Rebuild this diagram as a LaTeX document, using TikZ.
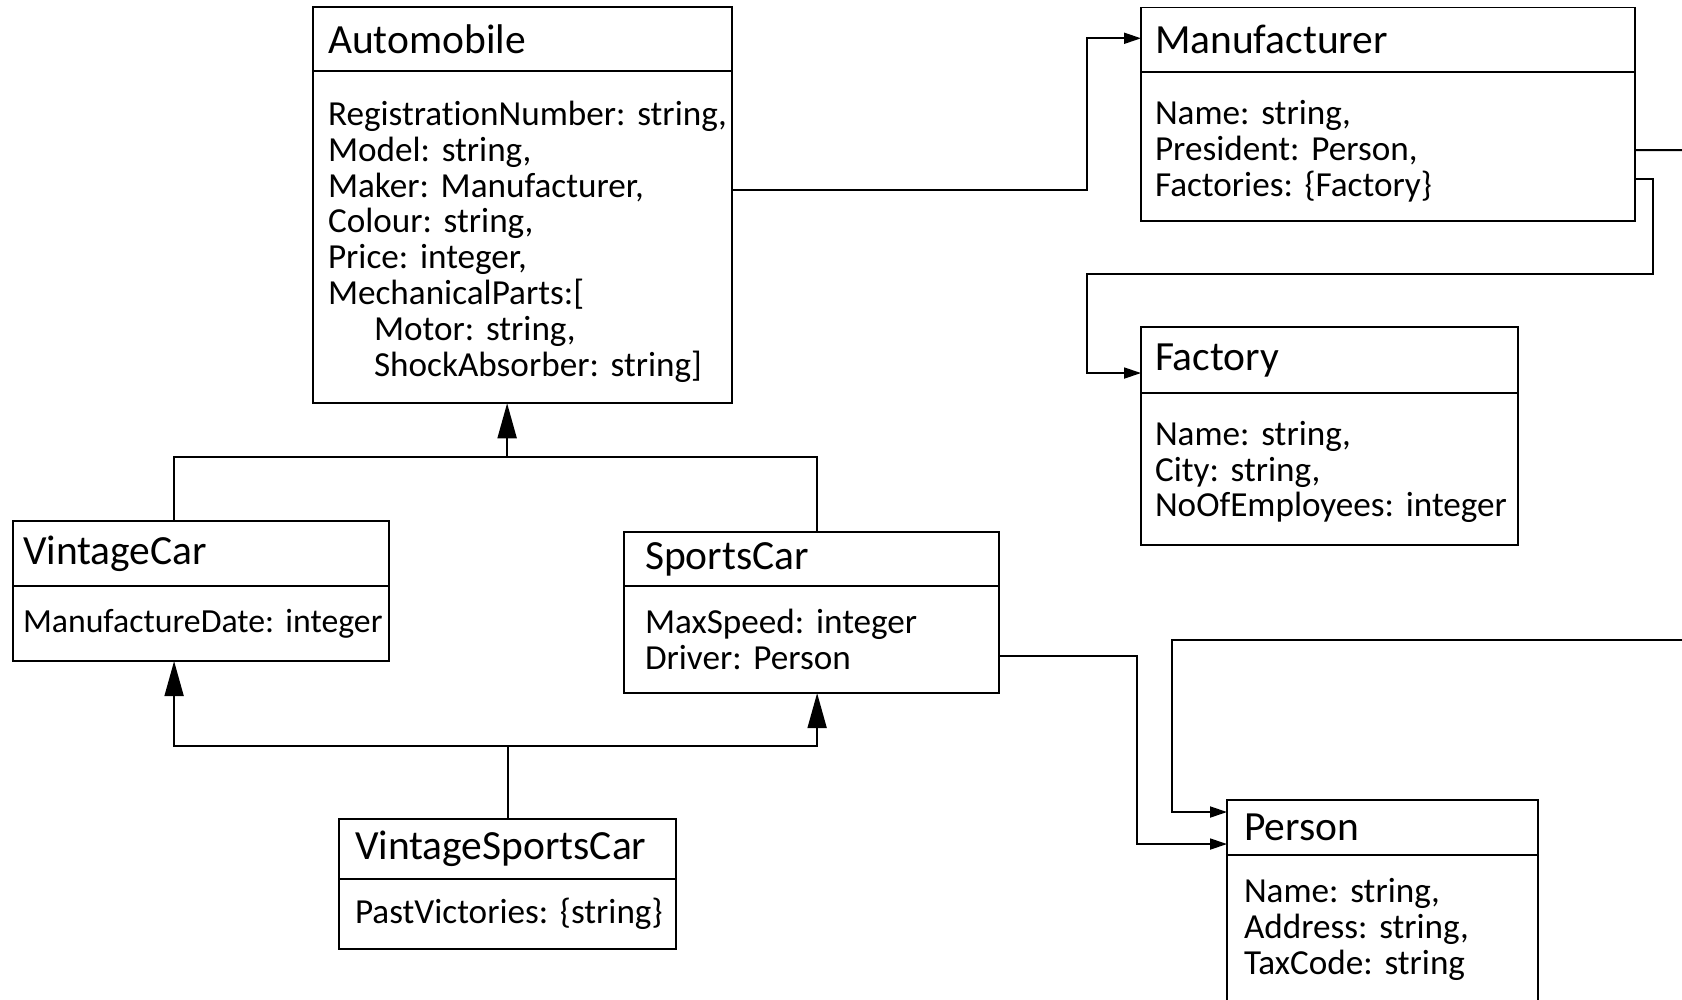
\documentclass[tikz,border=0pt]{standalone}
\usepackage{fontspec}
\setmainfont{Carlito}[Ligatures=NoCommon]
\usetikzlibrary{arrows.meta,positioning}

\tikzset{
  classname/.style={draw, outer sep=0pt, inner xsep=0pt, inner ysep=1pt,
    align=left, anchor=north west, font=\fontsize{11.8}{13}\selectfont\frenchspacing},
  classattr/.style={draw, outer sep=0pt, inner xsep=0pt, inner ysep=1pt,
    align=left, font=\fontsize{10}{10.2}\selectfont\frenchspacing},
  textpad/.style={execute at begin node={\leftskip=#1\rightskip=0pt plus 1fil minus 1cm\hyphenpenalty=10000\relax}},
  attrlift/.style={execute at begin node={\rule{0pt}{#1}}},
  link/.style={-{Triangle[length=1.7mm, width=1.1mm]}},
  isa/.style={-{Triangle[length=3.5mm, width=1.9mm]}},
}

\begin{document}
\begin{tikzpicture}[x=0.01cm, y=-0.01cm, line width=0.55pt]
  \useasboundingbox (0,0) rectangle (1682,999);

  % classes
  \node[classname, text width=4.19cm, minimum height=0.64cm, textpad=0.15cm] (autoT) at (313,7) {Automobile};
  \node[classattr, text width=4.19cm, minimum height=3.32cm, textpad=0.15cm, attrlift=9.5pt, below=0pt of autoT] (autoB)
    {RegistrationNumber: string,\\Model: string,\\Maker: Manufacturer,\\Colour: string,\\Price: integer,\\MechanicalParts:[\\
     \hspace*{0.46cm}Motor: string,\\\hspace*{0.46cm}ShockAbsorber: string]};

  \node[classname, text width=4.94cm, minimum height=0.645cm, textpad=0.14cm] (manT) at (1141,7.5) {Manufacturer};
  \node[classattr, text width=4.94cm, minimum height=1.49cm, textpad=0.14cm, attrlift=9.5pt, below=0pt of manT] (manB)
    {Name: string,\\President: Person,\\Factories: \{Factory\}};

  \node[classname, text width=3.77cm, minimum height=0.66cm, textpad=0.14cm] (facT) at (1141,327) {Factory};
  \node[classattr, text width=3.77cm, minimum height=1.52cm, textpad=0.14cm, attrlift=8.5pt, below=0pt of facT] (facB)
    {Name: string,\\City: string,\\NoOfEmployees: integer};

  \node[classname, text width=3.76cm, minimum height=0.65cm, textpad=0.10cm] (vintT) at (13,521) {VintageCar};
  \node[classattr, text width=3.76cm, minimum height=0.75cm, textpad=0.10cm, below=0pt of vintT,
    font=\fontsize{9.6}{10.2}\selectfont\frenchspacing] (vintB)
    {ManufactureDate: integer};

  \node[classname, text width=3.75cm, minimum height=0.54cm, textpad=0.21cm] (sportsT) at (624,532) {SportsCar};
  \node[classattr, text width=3.75cm, minimum height=1.07cm, textpad=0.21cm, below=0pt of sportsT] (sportsB)
    {MaxSpeed: integer\\Driver: Person};

  \node[classname, text width=3.37cm, minimum height=0.60cm, textpad=0.16cm] (vsT) at (339,819) {VintageSportsCar};
  \node[classattr, text width=3.37cm, minimum height=0.70cm, textpad=0.16cm, below=0pt of vsT] (vsB)
    {PastVictories: \{string\}};

  \node[classname, text width=3.11cm, minimum height=0.55cm, textpad=0.17cm] (perT) at (1227,800) {Person};
  \node[classattr, text width=3.11cm, minimum height=1.48cm, textpad=0.17cm, below=0pt of perT] (perB)
    {Name: string,\\Address: string,\\TaxCode: string};

  % generalisation
  \coordinate (isa1) at ([xshift=-1.55mm, yshift=-5.4mm]autoB.south);
  \coordinate (isa2) at ([yshift=7.3mm]vsT.north);
  \draw ([xshift=-2.7mm]vintT.north) |- (isa1) -| ([xshift=0.55mm]sportsT.north);
  \draw[isa] (isa1) -- (isa1 |- autoB.south);
  \draw (vsT.north) -- (isa2);
  \draw[isa] (isa2) -| ([xshift=-2.7mm]vintB.south);
  \draw[isa] (isa2) -| ([xshift=0.55mm]sportsB.south);

  % references
  \draw[link] ([yshift=4.7mm]autoB.east) -- ++(355,0) |- ([yshift=0.15mm]manT.west);
  \draw[link] ([yshift=-3.25mm]manB.east) -- ++(18,0) |- (1087,274) |- ([yshift=-1.3mm]facT.west);
  \draw[link] ([yshift=-0.35mm]manB.east) -- (1720,150) |- (1172,640) |- ([yshift=1.55mm]perT.west);
  \draw[link] ([yshift=-1.65mm]sportsB.east) -- ++(138,0) |- ([yshift=-1.65mm]perT.west);
\end{tikzpicture}
\end{document}
